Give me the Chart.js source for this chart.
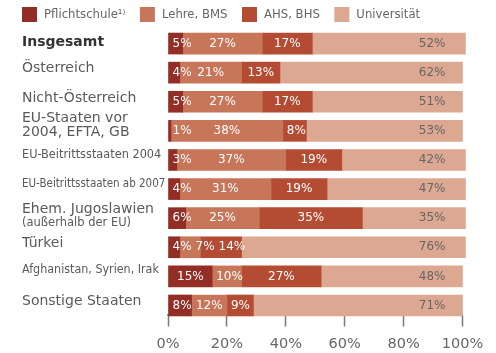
<!DOCTYPE html>
<html lang="de">
<head>
<meta charset="UTF-8">
<title>Bildungsabschluss nach Staatsangehörigkeit</title>
<script src="https://cdn.jsdelivr.net/npm/chart.js@4/dist/chart.umd.min.js"></script>
<style>
  html, body { margin: 0; padding: 0; background: #fff; }
</style>
</head>
<body>
<canvas id="chart" width="496" height="353"></canvas>
<script>
// Höchster Bildungsabschluss nach Herkunft, Anteile in %
const categories = [
  ['Insgesamt'],
  ['Österreich'],
  ['Nicht-Österreich'],
  ['EU-Staaten vor', '2004, EFTA, GB'],
  ['EU-Beitrittsstaaten 2004'],
  ['EU-Beitrittsstaaten ab 2007'],
  ['Ehem. Jugoslawien', '(außerhalb der EU)'],
  ['Türkei'],
  ['Afghanistan, Syrien, Irak'],
  ['Sonstige Staaten']
];
const seriesNames = ['Pflichtschule\u00b9\u207e', 'Lehre, BMS', 'AHS, BHS', 'Universität'];
const pflichtschule = [5, 4, 5, 1, 3, 4, 6, 4, 15, 8];
const lehreBms     = [27, 21, 27, 38, 37, 31, 25, 7, 10, 12];
const ahsBhs       = [17, 13, 17, 8, 19, 19, 35, 14, 27, 9];
const universitaet = [52, 62, 51, 53, 42, 47, 35, 76, 48, 71];
const xTicks = [0, 20, 40, 60, 80, 100];

const valueSets = [pflichtschule, lehreBms, ahsBhs, universitaet];
const colors = ['#922e25', '#c8765a', '#b44c34', '#dca891'];

const FONT = '"DejaVu Sans", sans-serif';
const COND = '"DejaVu Sans Condensed", "DejaVu Sans", sans-serif';

// font and baseline shift (relative to bar centre) for each label line
const rowStyles = [
  [{ font: 'bold 14px ' + FONT, dy: 2.5, color: '#333' }],
  [{ font: '14px ' + FONT, dy: -1 }],
  [{ font: '14px ' + FONT, dy: 0 }],
  [{ font: '14px ' + FONT, dy: -8.5 }, { font: '14px ' + FONT, dy: 5.5 }],
  [{ font: '12.6px ' + COND, dy: -2 }],
  [{ font: '11.5px ' + COND, dy: -2.5 }],
  [{ font: '14px ' + FONT, dy: -5.5 }, { font: '11.5px ' + FONT, dy: 7.5 }],
  [{ font: '14px ' + FONT, dy: -0.5 }],
  [{ font: '12.4px ' + COND, dy: -3.5 }],
  [{ font: '14px ' + FONT, dy: -0.5 }]
];

// category names on the left, one per bar
const rowLabels = {
  id: 'rowLabels',
  afterDraw(chart) {
    const ctx = chart.ctx;
    const yScale = chart.scales.y;
    ctx.save();
    ctx.textAlign = 'left';
    ctx.textBaseline = 'alphabetic';
    categories.forEach((lines, i) => {
      const cy = yScale.getPixelForValue(i);
      lines.forEach((line, j) => {
        const st = rowStyles[i][j];
        ctx.font = st.font;
        ctx.fillStyle = st.color || '#5a5a5a';
        ctx.fillText(line, 22, cy + st.dy);
      });
    });
    ctx.restore();
  }
};

// percentage values inside the segments
const valueLabels = {
  id: 'valueLabels',
  afterDatasetsDraw(chart) {
    const ctx = chart.ctx;
    const area = chart.chartArea;
    ctx.save();
    ctx.font = '12px ' + FONT;
    ctx.textBaseline = 'middle';
    for (let i = 0; i < categories.length; i++) {
      let prevEnd = -Infinity;
      for (let s = 0; s < valueSets.length; s++) {
        const bar = chart.getDatasetMeta(s).data[i];
        const text = valueSets[s][i] + '%';
        const w = ctx.measureText(text).width;
        if (s === valueSets.length - 1) {
          ctx.fillStyle = '#666';
          ctx.textAlign = 'right';
          ctx.fillText(text, area.right - 17, bar.y);
          continue;
        }
        const left = Math.min(bar.base, bar.x);
        const right = Math.max(bar.base, bar.x);
        const start = Math.max((left + right) / 2 - w / 2, left + 4, prevEnd + 4);
        ctx.fillStyle = '#fff';
        ctx.textAlign = 'left';
        ctx.fillText(text, start, bar.y);
        prevEnd = start + w;
      }
    }
    ctx.restore();
  }
};

// legend row above the bars
const topLegend = {
  id: 'topLegend',
  afterDraw(chart) {
    const ctx = chart.ctx;
    ctx.save();
    ctx.font = '11.7px ' + FONT;
    ctx.textBaseline = 'middle';
    ctx.textAlign = 'left';
    let x = 22;
    chart.data.datasets.forEach(ds => {
      ctx.fillStyle = ds.backgroundColor;
      ctx.fillRect(x, 7, 15, 15);
      ctx.fillStyle = '#666';
      ctx.fillText(ds.label, x + 22, 15);
      x += 22 + ctx.measureText(ds.label).width + 14.5;
    });
    ctx.restore();
  }
};

new Chart(document.getElementById('chart'), {
  type: 'bar',
  data: {
    datasets: valueSets.map((vals, s) => ({
      label: seriesNames[s],
      data: vals.map((v, i) => ({ x: v, y: i })),
      backgroundColor: colors[s],
      borderWidth: 0,
      barThickness: 21,
      clip: false
    }))
  },
  options: {
    indexAxis: 'y',
    responsive: false,
    devicePixelRatio: 1,
    animation: false,
    layout: { padding: { top: 29, right: 33.5, bottom: 0, left: 0 } },
    plugins: { legend: { display: false }, tooltip: { enabled: false } },
    scales: {
      x: {
        type: 'linear',
        stacked: true,
        min: 0,
        max: 100,
        z: 1,
        afterBuildTicks: scale => { scale.ticks = xTicks.map(v => ({ value: v })); },
        afterFit: scale => { scale.height = 38.5; },
        ticks: {
          callback: v => v + '%',
          font: { family: FONT, size: 14.5 },
          color: '#666',
          padding: 9,
          maxRotation: 0,
          autoSkip: false
        },
        grid: { drawOnChartArea: false, drawTicks: true, tickLength: 12, tickColor: '#7a7a7a', tickWidth: 1.5 },
        border: { display: true, color: '#7a7a7a', width: 1.5 }
      },
      y: {
        type: 'linear',
        stacked: true,
        reverse: true,
        offset: false,
        min: -0.5,
        max: 9.31,
        ticks: { display: false },
        grid: { display: false, drawTicks: false },
        border: { display: false },
        afterFit: scale => { scale.width = 168; }
      }
    }
  },
  plugins: [valueLabels, rowLabels, topLegend]
});
</script>
</body>
</html>
